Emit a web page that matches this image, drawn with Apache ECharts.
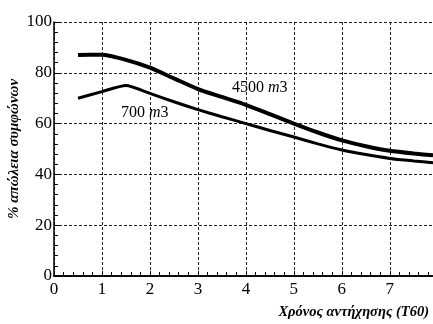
<!DOCTYPE html>
<html><head><meta charset="utf-8">
<script src="https://cdn.jsdelivr.net/npm/echarts@6/dist/echarts.min.js"></script>
<style>html,body{margin:0;padding:0;background:#fff}#c{width:433px;height:324px}</style>
</head><body><div id="c"></div>
<script>
const xTicks = [0,1,2,3,4,5,6,7];
const yTicks = [0,20,40,60,80,100];
const seriesNames = ['4500 m3','700 m3'];
const data4500 = [[0.5,87],[1,87.1],[1.5,85.1],[2,82],[2.5,77.8],[3,73.6],[3.5,70.5],[4,67.4],[4.5,63.7],[5,60],[5.5,56.5],[6,53.4],[6.5,51.1],[7,49.3],[7.5,48.2],[7.9,47.5]];
const data700 = [[0.5,70],[1,72.6],[1.5,75],[2,71.9],[2.5,68.6],[3,65.5],[3.5,62.7],[4,60],[4.5,57.3],[5,54.7],[5.5,52],[6,49.6],[6.5,47.8],[7,46.3],[7.5,45.3],[7.9,44.6]];
const labelPos4500 = [4.29,74];
const labelPos700 = [1.89,64.2];

const serif = "'Liberation Serif', 'Times New Roman', serif";
const chart = echarts.init(document.getElementById('c'));
const gridLine = {show:true, lineStyle:{color:'#222', width:1, type:[3,2]}};
function lbl(coord, num){
  return {coord: coord, symbolSize: 0, label:{show:true, position:'inside', formatter:'{a|'+num+' }{b|m}{a|3}',
    rich:{a:{fontFamily:serif,fontSize:16,color:'#000'},b:{fontFamily:serif,fontSize:16,fontStyle:'italic',color:'#000'}}}};
}
chart.setOption({
  animation:false,
  grid:{left:54, right:0, top:22, bottom:48, containLabel:false, outerBoundsMode:'none'},
  xAxis:[{
    type:'value', min:0, max:7.9, interval:1,
    axisLine:{show:true, onZero:false, lineStyle:{color:'#000', width:1.5}},
    axisTick:{show:true, inside:true, length:5, lineStyle:{color:'#000'}},
    minorTick:{show:true, splitNumber:5, length:4, lineStyle:{color:'#000'}},
    axisLabel:{fontFamily:serif, fontSize:17, color:'#000', margin:5, showMaxLabel:false,
      formatter: v => xTicks.includes(v) ? String(v) : ''},
    splitLine:gridLine,
    name:'{i|Χρόνος αντήχησης (}{t|T60}{i|)}', nameLocation:'end', nameGap:0, nameMoveOverlap:false,
    nameTextStyle:{rich:{i:{fontFamily:serif,fontSize:14.5,fontStyle:'italic',fontWeight:'bold',color:'#000'},
      t:{fontFamily:serif,fontSize:14.5,fontStyle:'italic',fontWeight:'bold',color:'#000'}},
      align:'right', verticalAlign:'top', padding:[29,4,0,0]}
  },{
    type:'value', position:'top', min:0, max:7.9,
    axisLine:{show:true, lineStyle:{color:'#000', width:1.5}},
    axisTick:{show:false}, axisLabel:{show:false}, splitLine:{show:false}
  }],
  yAxis:{
    type:'value', min:0, max:100, interval:20,
    axisLine:{show:true, lineStyle:{color:'#000', width:1.5}},
    axisTick:{show:true, inside:true, length:5, lineStyle:{color:'#000'}},
    minorTick:{show:true, splitNumber:5, length:4, lineStyle:{color:'#000'}},
    axisLabel:{fontFamily:serif, fontSize:17, color:'#000', margin:2,
      formatter: v => yTicks.includes(v) ? String(v) : ''},
    splitLine:gridLine,
    name:'% απώλεια συμφώνων', nameLocation:'middle', nameGap:40, nameRotate:90, nameMoveOverlap:false,
    nameTextStyle:{fontFamily:serif, fontSize:15, fontStyle:'italic', fontWeight:'bold', color:'#000', align:'center', verticalAlign:'middle'}
  },
  series:[{
    name:seriesNames[0], type:'line', data:data4500, smooth:0.2, symbol:'none',
    lineStyle:{color:'#000', width:4},
    markPoint:{symbol:'circle', symbolSize:0, data:[lbl(labelPos4500,'4500')]}
  },{
    name:seriesNames[1], type:'line', data:data700, smooth:0.2, symbol:'none',
    lineStyle:{color:'#000', width:3},
    markPoint:{symbol:'circle', symbolSize:0, data:[lbl(labelPos700,'700')]}
  }]
});
</script></body></html>
